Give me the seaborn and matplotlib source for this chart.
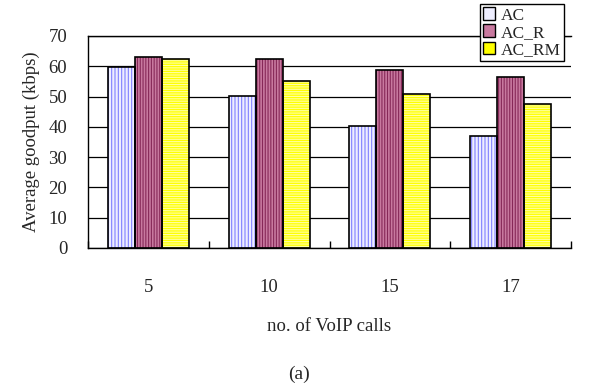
import pandas as pd
import matplotlib.pyplot as plt
import matplotlib.patches as mpatches
import seaborn as sns

calls = ['5', '10', '15', '17']
schemes = ['AC', 'AC_R', 'AC_RM']
ac = [59.7, 50.1, 40.2, 37.0]
ac_r = [63.1, 62.3, 58.7, 56.3]
ac_rm = [62.3, 55.1, 50.9, 47.4]

face = {'AC': '#eeeeff', 'AC_R': '#c8799f', 'AC_RM': '#ffff00'}
hatch_col = {'AC': '#8080ff', 'AC_R': '#862858', 'AC_RM': '#ffffa8'}
hatch_pat = {'AC': '|||||', 'AC_R': '||||||', 'AC_RM': '-------'}

df = pd.DataFrame({
    'calls': calls * 3,
    'scheme': [s for s in schemes for _ in calls],
    'goodput': ac + ac_r + ac_rm,
})

sns.set_style('white')
plt.rcParams['font.family'] = ['Liberation Serif', 'DejaVu Serif']
plt.rcParams['hatch.linewidth'] = 0.8

fig = plt.figure(figsize=(5.92, 3.87), dpi=100)
ax = fig.add_axes([88 / 592, 1 - 248 / 387, (571 - 88) / 592, (248 - 36) / 387])

sns.barplot(data=df, x='calls', y='goodput', hue='scheme', order=calls,
            hue_order=schemes, width=0.67, ax=ax, legend=False, zorder=2)

handles = []
for cont, s in zip(ax.containers, schemes):
    for p in cont.patches:
        p.set_facecolor(face[s])
        p.set_edgecolor(hatch_col[s])
        p.set_hatch(hatch_pat[s])
        p.set_linewidth(0)
        # black outline drawn on top so hatch keeps its own colour
        ax.add_patch(mpatches.Rectangle(p.get_xy(), p.get_width(), p.get_height(),
                                        fill=False, edgecolor='black', lw=1.2, zorder=3))
    handles.append(mpatches.Patch(facecolor=face[s], edgecolor='black', lw=1.0,
                                  label=s))

ax.set_ylim(0, 70)
ax.set_xlim(-0.5, 3.5)
ax.set_yticks(range(0, 71, 10))
ax.yaxis.grid(True, color='black', lw=0.9)
ax.set_axisbelow(True)
ax.spines['right'].set_visible(False)
for side in ['left', 'bottom', 'top']:
    ax.spines[side].set_color('black')
    ax.spines[side].set_linewidth(1.0)

ax.tick_params(axis='x', length=0, labelsize=13.5, pad=22)
ax.tick_params(axis='y', length=0, labelsize=13.5, pad=15)
ax.set_xticks([-0.5, 0.5, 1.5, 2.5, 3.5], minor=True)
ax.tick_params(axis='x', which='minor', bottom=True, direction='in', length=5,
               width=1, color='black')

ax.set_xlabel('no. of VoIP calls', fontsize=13.5, labelpad=16)
ax.set_ylabel('Average goodput (kbps)', fontsize=13.5, labelpad=6)

fig.text(299 / 592, 1 - 374 / 387, '(a)', ha='center', va='center', fontsize=14)

fig.legend(handles=handles, loc='upper right', bbox_to_anchor=(564 / 592, 1 - 4 / 387),
           fontsize=12.5, frameon=True, fancybox=False, edgecolor='black',
           framealpha=1, handlelength=0.7, handleheight=0.7, handletextpad=0.3,
           borderpad=0.2, labelspacing=0.05, borderaxespad=0)

fig.savefig('out.png', dpi=100)
